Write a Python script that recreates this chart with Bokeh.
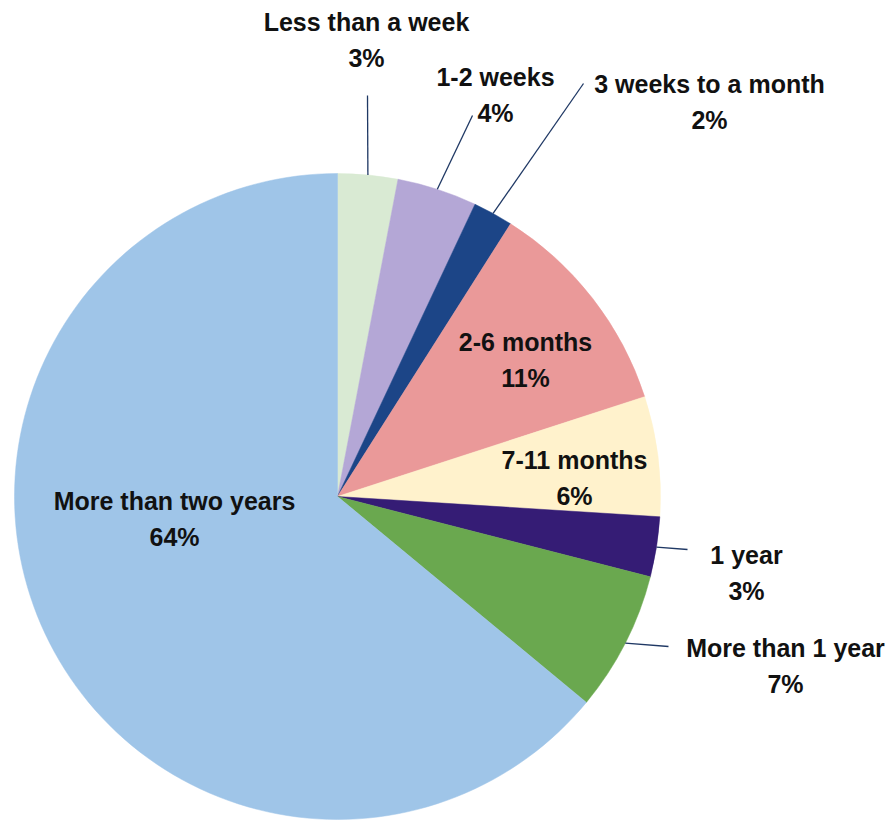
import math
from bokeh.plotting import figure
from bokeh.models import Range1d, ColumnDataSource
from bokeh.core.properties import value
from bokeh.embed import file_html
from bokeh.resources import INLINE

# ---- data ----
categories = ["Less than a week", "1-2 weeks", "3 weeks to a month", "2-6 months",
              "7-11 months", "1 year", "More than 1 year", "More than two years"]
percents = [3, 4, 2, 11, 6, 3, 7, 64]
colors = ["#d9ead3", "#b4a7d6", "#1c4587", "#ea9999",
          "#fff2cc", "#351c75", "#6aa84f", "#9fc5e8"]

# ---- layout (pixel positions, y downward) ----
W, H = 892, 821
CX, CY, R = 337, 496, 323
label_pos = [(366, 21), (495, 76), (709, 83), (525, 341),
             (574, 459), (746, 554), (785, 647), (174, 500)]
LINE_GAP = 36
# leader line end points (None = label inside the slice)
leader_end = [(367, 95), (472, 115), (583, 83), None, None, (687, 549), (668, 646), None]

p = figure(width=W, height=H, x_range=Range1d(0, W), y_range=Range1d(0, H),
           output_backend="svg", toolbar_location=None, min_border=0)
p.axis.visible = False
p.grid.visible = False
p.outline_line_color = None
p.background_fill_color = "white"
p.border_fill_color = "white"

total = sum(percents)
starts, ends, mids = [], [], []
cum = 0.0
for v in percents:
    a0 = math.pi / 2 - 2 * math.pi * cum / total
    cum += v
    a1 = math.pi / 2 - 2 * math.pi * cum / total
    starts.append(a0)
    ends.append(a1)
    mids.append((a0 + a1) / 2)

src = ColumnDataSource(dict(x=[CX] * len(percents), y=[H - CY] * len(percents),
                            start=starts, end=ends, color=colors))
p.wedge(x="x", y="y", radius=R, radius_units="screen", start_angle="start",
        end_angle="end", direction="clock", fill_color="color",
        line_color="color", line_width=0.5, source=src)

# leader lines
xs, ys = [], []
for m, e in zip(mids, leader_end):
    if e is None:
        continue
    sx = CX + R * math.cos(m)
    sy = (H - CY) + R * math.sin(m)
    xs.append([sx, e[0]])
    ys.append([sy, H - e[1]])
p.multi_line(xs=xs, ys=ys, line_color="#1f3864", line_width=1.3)

lab = ColumnDataSource(dict(
    x=[lp[0] for lp in label_pos],
    y1=[H - lp[1] for lp in label_pos],
    y2=[H - lp[1] - LINE_GAP for lp in label_pos],
    name=categories,
    pct=[f"{v}%" for v in percents]))
for col, ycol in (("name", "y1"), ("pct", "y2")):
    p.text(x="x", y=ycol, text=col, source=lab, text_font=value("Liberation Sans"),
           text_font_style="bold", text_font_size="25px", text_color="#111111",
           text_align="center", text_baseline="middle")

open("out.html", "w").write(file_html(p, INLINE))
